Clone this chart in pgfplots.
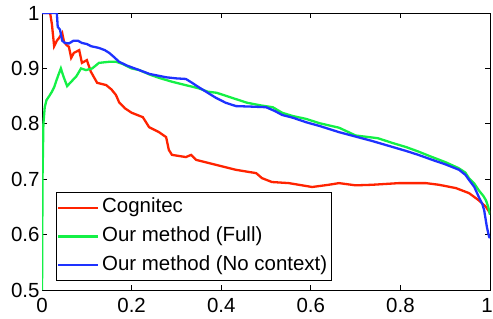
\documentclass[border=0pt]{standalone}
\usepackage{fontspec}
\setmainfont{Liberation Sans}
\usepackage{pgfplots}
\pgfplotsset{compat=1.18}
\definecolor{cred}{RGB}{255,35,0}
\definecolor{cgreen}{RGB}{20,240,70}
\definecolor{cblue}{RGB}{30,50,255}
\begin{document}
\begin{tikzpicture}
\begin{axis}[
  name=ax,
  scale only axis,
  width=447.4bp, height=276.7bp,
  xmin=0, xmax=1, ymin=0.5, ymax=1,
  xtick={0,0.2,0.4,0.6,0.8,1},
  xticklabels={0,0.2,0.4,0.6,0.8,\kern-6bp 1},
  ytick={0.5,0.6,0.7,0.8,0.9,1},
  yticklabels={0.5,0.6,0.7,0.8,0.9,1},
  tick align=inside,
  tick pos=both,
  major tick length=5bp,
  axis line style={line width=0.8bp},
  every tick/.style={black,line width=0.8bp},
  tick label style={font=\fontsize{20.5}{24}\selectfont},
  xticklabel style={yshift=-4.5bp},
  yticklabel style={xshift=1bp},
  legend cell align=left,
  legend style={at={(0.031,0.033)}, anchor=south west, draw=black, line width=0.8bp,
    font=\fontsize{20.5}{24}\selectfont, inner sep=1bp,
    nodes={inner xsep=3.5bp, inner ysep=4.3bp, text height=15bp, text depth=5bp}},
  legend image code/.code={\draw[#1] (0bp,0bp) -- (39bp,0bp);},
]
\addplot[cred, line width=2.3bp] coordinates {
(0,1.0) (0.018,1.0) (0.022,0.98) (0.027,0.94) (0.033,0.950) (0.038,0.955) (0.045,0.964) (0.049,0.948) (0.055,0.942) (0.060,0.939) (0.065,0.919) (0.071,0.928) (0.083,0.933) (0.089,0.910) (0.100,0.915) (0.109,0.894) (0.123,0.874) (0.143,0.870) (0.155,0.862) (0.165,0.852) (0.172,0.839) (0.185,0.828) (0.200,0.820) (0.225,0.812) (0.239,0.794) (0.261,0.785) (0.277,0.776) (0.283,0.753) (0.29,0.744) (0.321,0.740) (0.333,0.744) (0.344,0.735) (0.388,0.726) (0.433,0.717) (0.478,0.711) (0.491,0.702) (0.513,0.695) (0.551,0.693) (0.603,0.686) (0.640,0.690) (0.663,0.693) (0.700,0.689) (0.737,0.690) (0.797,0.693) (0.857,0.693) (0.886,0.690) (0.924,0.684) (0.953,0.675) (0.975,0.662) (0.991,0.650) (1.0,0.639)
};
\addlegendentry{Cognitec}
\addplot[cgreen, line width=2.3bp] coordinates {
(0,0.5) (0.001,0.70) (0.003,0.80) (0.006,0.83) (0.010,0.843) (0.016,0.850) (0.022,0.858) (0.027,0.866) (0.035,0.885) (0.042,0.900) (0.048,0.885) (0.056,0.868) (0.065,0.876) (0.076,0.885) (0.087,0.900) (0.098,0.897) (0.112,0.900) (0.127,0.910) (0.150,0.912) (0.165,0.912) (0.180,0.908) (0.200,0.900) (0.217,0.897) (0.240,0.889) (0.261,0.883) (0.290,0.876) (0.320,0.870) (0.350,0.864) (0.370,0.858) (0.390,0.856) (0.420,0.848) (0.458,0.838) (0.490,0.833) (0.515,0.830) (0.536,0.820) (0.560,0.814) (0.589,0.809) (0.620,0.801) (0.663,0.793) (0.700,0.779) (0.750,0.774) (0.780,0.766) (0.813,0.758) (0.840,0.750) (0.871,0.740) (0.900,0.731) (0.930,0.720) (0.945,0.712) (0.953,0.702) (0.965,0.692) (0.975,0.680) (0.985,0.670) (0.991,0.662) (0.996,0.650) (1.0,0.636)
};
\addlegendentry{Our method (Full)}
\addplot[cblue, line width=2.3bp] coordinates {
(0,1.0) (0.033,1.0) (0.035,0.975) (0.040,0.970) (0.045,0.950) (0.051,0.946) (0.060,0.945) (0.070,0.950) (0.080,0.950) (0.089,0.946) (0.100,0.944) (0.110,0.940) (0.127,0.937) (0.140,0.933) (0.150,0.928) (0.160,0.921) (0.172,0.912) (0.190,0.905) (0.217,0.897) (0.240,0.890) (0.277,0.884) (0.300,0.882) (0.321,0.881) (0.335,0.874) (0.350,0.866) (0.370,0.856) (0.388,0.847) (0.410,0.838) (0.433,0.832) (0.470,0.831) (0.500,0.830) (0.520,0.823) (0.536,0.816) (0.560,0.811) (0.589,0.803) (0.620,0.796) (0.663,0.785) (0.700,0.777) (0.737,0.769) (0.775,0.760) (0.813,0.751) (0.840,0.744) (0.871,0.735) (0.900,0.727) (0.931,0.717) (0.945,0.708) (0.953,0.699) (0.965,0.686) (0.975,0.668) (0.983,0.655) (0.987,0.644) (0.993,0.614) (0.998,0.596) (1.0,0.594)
};
\addlegendentry{Our method (No context)}
\end{axis}
\pgfresetboundingbox
\path ([shift={(-42bp,-28bp)}]ax.south west) rectangle ([shift={(3bp,13bp)}]ax.north east);
\end{tikzpicture}
\end{document}
